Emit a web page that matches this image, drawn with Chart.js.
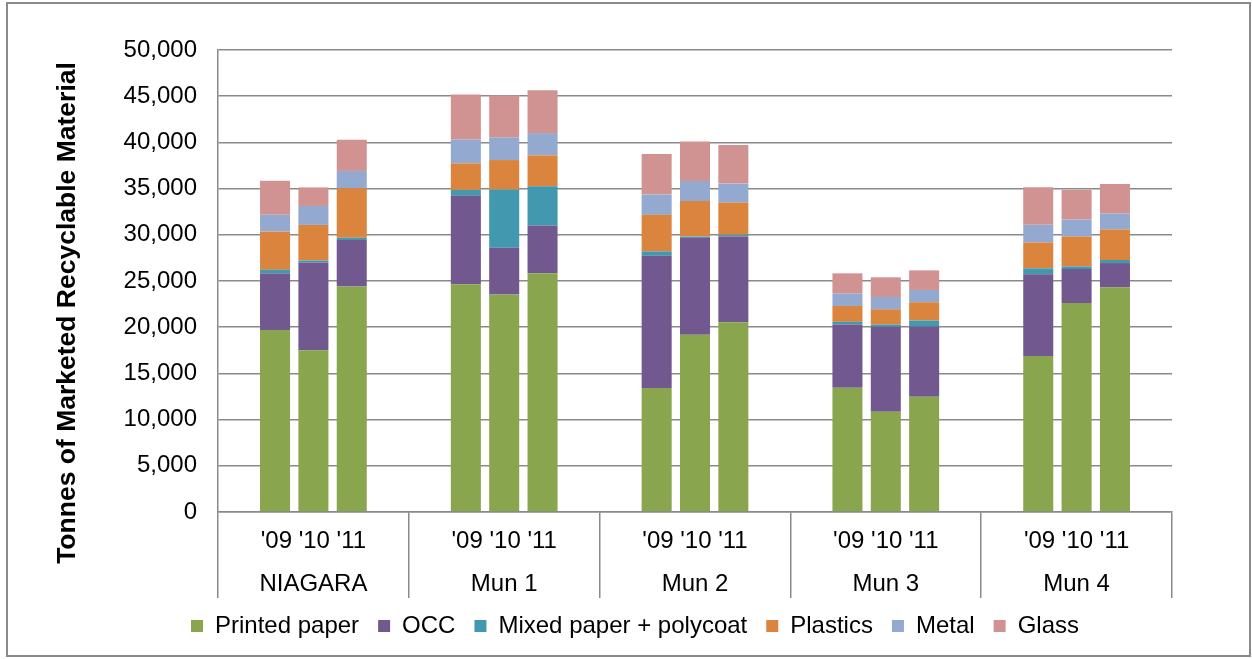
<!DOCTYPE html>
<html>
<head>
<meta charset="utf-8">
<script src="https://cdn.jsdelivr.net/npm/chart.js@4.4.0/dist/chart.umd.min.js"></script>
<style>
body{margin:0;background:#fff}
#wrap{position:relative;width:1252px;height:659px}
#frame{position:absolute;left:6px;top:2px;width:1245px;height:655px;border:2px solid #8a8a8a;box-sizing:border-box}
canvas{position:absolute;left:0;top:0}
</style>
</head>
<body>
<div id="wrap">
<div id="frame"></div>
<canvas id="recycleChart" width="1252" height="659"></canvas>
</div>
<script>
const municipalities=["NIAGARA","Mun 1","Mun 2","Mun 3","Mun 4"]
const years=["'09","'10","'11"]
const yTicks=[0,5000,10000,15000,20000,25000,30000,35000,40000,45000,50000]

// tonnes, three years per municipality ('09 '10 '11)
const printedPaper=[19700,17500,24400, 24640,23530,25830, 13420,19170,20540, 13450,10860,12480, 16870,22630,24320]
const occ=[6100,9500,5030, 9600,5070,5180, 14310,10500,9280, 6840,9180,7590, 8850,3660,2620]
const mixedPaper=[430,220,250, 620,6290,4240, 470,140,180, 290,250,650, 650,290,330]
const plastics=[4140,3850,5360, 2870,3200,3350, 3960,3850,3490, 1720,1650,1980, 2800,3240,3310]
const metal=[1800,2050,1870, 2590,2450,2410, 2190,2160,2050, 1330,1330,1330, 1910,1830,1720]
const glass=[3670,2010,3380, 4860,4530,4640, 4390,4280,4170, 2200,2130,2120, 4060,3210,3200]

const materials=[
{name:"Printed paper",values:printedPaper,color:"#89a54e"},
{name:"OCC",values:occ,color:"#71588f"},
{name:"Mixed paper + polycoat",values:mixedPaper,color:"#4198af"},
{name:"Plastics",values:plastics,color:"#db843d"},
{name:"Metal",values:metal,color:"#93a9cf"},
{name:"Glass",values:glass,color:"#d19392"}
]

const font="'Liberation Sans', Arial, sans-serif"
const gridGrey="#8a8a8a"

// one dataset per material and year, stacked by year inside each municipality
const datasets=[]
materials.forEach(m=>{
years.forEach((yr,y)=>{
datasets.push({
label:m.name,
data:municipalities.map((_,i)=>m.values[i*3+y]),
backgroundColor:m.color,
stack:yr,
borderWidth:0,
categoryPercentage:0.603,
barPercentage:0.783
})
})
})

// y axis title sits centred over the whole left side
const sideTitle={
id:"sideTitle",
afterDraw(chart){
const c=chart.ctx
c.save()
c.translate(68,313)
c.rotate(-Math.PI/2)
c.font="bold 26.5px "+font
c.fillStyle="#000"
c.textAlign="center"
c.textBaseline="middle"
c.fillText("Tonnes of Marketed Recyclable Material",0,0)
c.restore()
}
}

// keep the legend row short so the plot keeps its height
const legendHeight={
id:"legendHeight",
beforeInit(chart){
const fit=chart.legend.fit
chart.legend.fit=function(){
fit.call(this)
this.height=64
}
}
}

new Chart(document.getElementById("recycleChart"),{
type:"bar",
data:{
labels:municipalities.map(m=>[years.join(" "),m]),
datasets:datasets
},
options:{
responsive:false,
animation:false,
layout:{padding:{top:50,right:80,left:98,bottom:0}},
plugins:{
tooltip:{enabled:false},
legend:{
position:"bottom",
labels:{
boxWidth:12,
boxHeight:12,
padding:19,
color:"#000",
font:{family:font,size:24},
filter:item=>item.datasetIndex%3===0
}
}
},
scales:{
x:{
stacked:true,
grid:{offset:true,drawOnChartArea:false,tickLength:86,color:gridGrey,lineWidth:1.5},
border:{color:gridGrey,width:1.5},
ticks:{color:"#000",font:{family:font,size:24,lineHeight:1.79},padding:-78.5,maxRotation:0,autoSkip:false},
afterFit(scale){scale.height=83}
},
y:{
stacked:true,
min:0,
max:50000,
afterBuildTicks(axis){axis.ticks=yTicks.map(v=>({value:v}))},
grid:{color:gridGrey,lineWidth:1.5,drawTicks:false},
border:{color:gridGrey,width:1.5},
ticks:{color:"#000",font:{family:font,size:24},padding:21,callback:v=>v.toLocaleString("en-US")},
afterFit(scale){scale.width=120}
}
}
},
plugins:[sideTitle,legendHeight]
})
</script>
</body>
</html>
